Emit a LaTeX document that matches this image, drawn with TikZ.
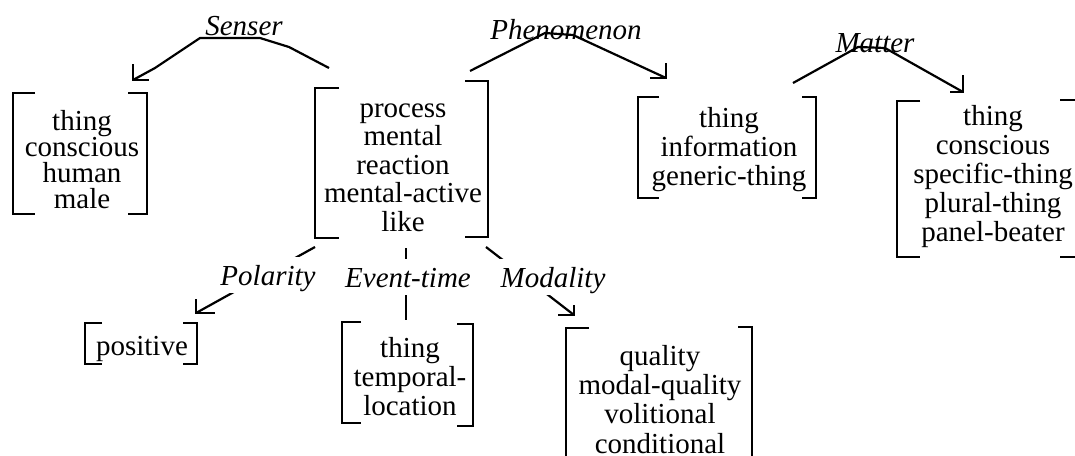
\documentclass[tikz,border=0pt]{standalone}
\usepackage{fontspec}
\setmainfont{Liberation Serif}
\setlength{\lineskiplimit}{-100pt}
\newcommand\fsz[1]{\fontsize{29}{#1}\selectfont}
\newcommand\firstline{\rule{0pt}{22pt}}
\tikzset{
  brk/.style={line width=2.8pt, line cap=butt, line join=miter},
  conn/.style={line width=2.2pt, line join=round},
  tipl/.style={line width=2.2pt, line join=miter},
  boxtext/.style={anchor=north, align=center, inner sep=0pt},
  rel/.style={anchor=base, inner sep=0pt, font=\itshape\fsz{29}},
  rellow/.style={rel, fill=white, inner sep=2pt, text height=26pt, text depth=6pt}
}
\begin{document}
\begin{tikzpicture}[x=1pt,y=-1pt]
\useasboundingbox (0,0) rectangle (1075,455);
\clip (0,0) rectangle (1075,455);

% ---------- feature boxes (text) ----------
\node[boxtext, font=\fsz{26}]   (human)   at (82,108)  {\firstline thing\\conscious\\human\\male};
\node[boxtext, font=\fsz{28.5}] (process) at (403,95)  {\firstline process\\mental\\reaction\\mental-active\\like};
\node[boxtext, font=\fsz{29}]   (info)    at (729,105) {\firstline thing\\information\\generic-thing};
\node[boxtext, font=\fsz{29}]   (panel)   at (993,103) {\firstline thing\\conscious\\specific-thing\\plural-thing\\panel-beater};
\node[boxtext, font=\fsz{29}]   (pos)     at (142,333) {\firstline positive};
\node[boxtext, font=\fsz{29}]   (temp)    at (410,335) {\firstline thing\\temporal-\\location};
\node[boxtext, font=\fsz{29.3}] (qual)    at (660,343) {\firstline quality\\modal-quality\\volitional\\conditional};

% ---------- brackets ----------
% human
\draw[brk] (35,93) -- (13,93) -- (13,214) -- (35,214);
\draw[brk] (128,93) -- (147,93) -- (147,214) -- (128,214);
% process
\draw[brk] (339,88) -- (315,88) -- (315,238) -- (339,238);
\draw[brk] (465,81) -- (488,81) -- (488,237) -- (465,237);
% information
\draw[brk] (659,97) -- (638,97) -- (638,198) -- (659,198);
\draw[brk] (802,97) -- (816,97) -- (816,198) -- (802,198);
% panel-beater
\draw[brk] (920,101) -- (897,101) -- (897,257) -- (920,257);
\draw[brk] (1060,100) -- (1078,100) -- (1078,257) -- (1060,257);
% positive
\draw[brk] (102,323) -- (85,323) -- (85,364) -- (102,364);
\draw[brk] (183,323) -- (197,323) -- (197,364) -- (183,364);
% temporal-location
\draw[brk] (361,322) -- (342,322) -- (342,423) -- (361,423);
\draw[brk] (457,324) -- (473,324) -- (473,426) -- (457,426);
% quality
\draw[brk] (589,328) -- (566,328) -- (566,470);
\draw[brk] (738,327) -- (752,327) -- (752,470);

% ---------- connector end points ----------
\coordinate (senS) at (329,68);   \coordinate (senT) at (133,80);
\coordinate (phS)  at (470,71);   \coordinate (phT)  at (666,78);
\coordinate (maS)  at (793,83);   \coordinate (maT)  at (963,92);
\coordinate (poS)  at (315,247);  \coordinate (poT)  at (196,313);
\coordinate (evS)  at (406,248);  \coordinate (evT)  at (406,320);
\coordinate (moS)  at (486,247);  \coordinate (moT)  at (574,315);

% ---------- connectors ----------
\draw[conn] (senS) -- (289,47) -- (260,38) -- (200,38) -- (155,68) -- (senT);
\draw[tipl] ([yshift=16pt]senT) -- (senT) -- ([xshift=16pt]senT);

\draw[conn] (phS) -- (545,33) -- (573,35) -- (phT);
\draw[tipl] ([yshift=15pt]phT) -- (phT) -- ([xshift=-16pt]phT);

\draw[conn] (maS) -- (858,47) -- (885,48) -- (maT);
\draw[tipl] ([yshift=17pt]maT) -- (maT) -- ([xshift=-13pt]maT);

\draw[conn] (poS) -- (poT);
\draw[tipl] ([yshift=14pt]poT) -- (poT) -- ([xshift=19pt]poT);

\draw[conn] (evS) -- (evT);

\draw[conn] (moS) -- (moT);
\draw[tipl] ([yshift=10pt]moT) -- (moT) -- ([xshift=-16pt]moT);

% ---------- role labels ----------
\node[rel] (lsen) at (244,35) {Senser};
\node[rel] (lphe) at (566,39) {Phenomenon};
\node[rel] (lmat) at (875,52) {Matter};
\node[rellow] (lpol) at (268,285) {Polarity};
\node[rellow] (levt) at (408,287) {Event-time};
\node[rellow] (lmod) at (553,287) {Modality};
\end{tikzpicture}
\end{document}
